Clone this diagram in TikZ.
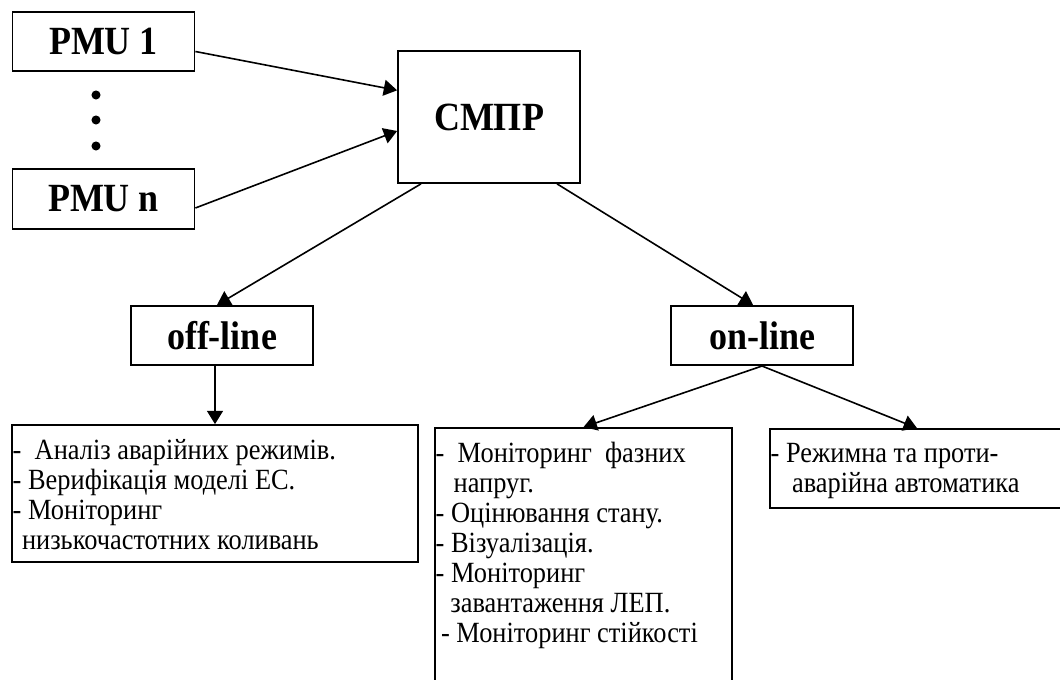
\documentclass[tikz,border=0pt]{standalone}
\usepackage{fontspec}
\setmainfont{Liberation Serif}[FakeStretch=0.9]
\usepackage{tikz}
\usetikzlibrary{arrows.meta,positioning}

\begin{document}
\begin{tikzpicture}[x=0.75pt,y=-0.75pt,
    headbox/.style={draw, line width=1.3pt, minimum width=136.5pt, minimum height=44.5pt, inner sep=0pt, font=\fontsize{30}{32}\selectfont\bfseries},
    listbox/.style={draw, line width=1.3pt, inner sep=0pt},
    listtxt/.style={anchor=north west, align=left, inner sep=0pt, font=\fontsize{22}{22.5}\selectfont},
    arr/.style={-{Triangle[length=10pt,width=12pt]}, line width=1.2pt}]
    \useasboundingbox (0,0) rectangle (1060,680);
    \clip (0,0) rectangle (1060,680);

    % sources
    \node[headbox] (pmu1) at (103.5,41.5) {PMU 1};
    \node[headbox] (pmun) at (103.5,199) {PMU n};
    \foreach \y in {95,120,146}{
        \fill (96,\y) circle (3.4pt);
    }

    % centre and modes
    \node[headbox, minimum height=99pt] (smpr) at (489,117) {СМПР};
    \node[headbox] (offl) at (222,335.5) {off-line};
    \node[headbox] (onl) at (762,335.5) {on-line};

    % task lists
    \node[listbox, minimum width=304.5pt, minimum height=102.75pt] (tasksoff) at (215,493.5) {};
    \node[listbox, minimum width=222.75pt, minimum height=196.5pt] (tasksmid) at (583.5,559) {};
    \node[listbox, minimum width=220.5pt, minimum height=59.25pt] (tasksright) at (917,468.5) {};

    \node[listtxt] (offtxt) at ([xshift=1pt,yshift=-11pt]tasksoff.north west)
        {-~ Аналіз аварійних режимів.\\
         - Верифікація моделі ЕС.\\
         - Моніторинг\\
         \hspace*{7pt}низькочастотних коливань};
    \node[listtxt] (midtxt) at ([xshift=1pt,yshift=-11pt]tasksmid.north west)
        {-~ Моніторинг~ фазних\\
         \hspace*{13.5pt}напруг.\\
         - Оцінювання стану.\\
         - Візуалізація.\\
         - Моніторинг\\
         \hspace*{11pt}завантаження ЛЕП.\\
         \hspace*{4pt}- Моніторинг стійкості};
    \node[listtxt] (righttxt) at ([xshift=1pt,yshift=-11pt]tasksright.north west)
        {- Режимна та проти-\\
         \hspace*{16pt}аварійна автоматика};

    % connectors
    \draw[arr] ([yshift=-7.5pt]pmu1.east) -- ([yshift=20pt]smpr.west);
    \draw[arr] ([yshift=-6.75pt]pmun.east) -- ([yshift=-10.5pt]smpr.west);
    \draw[arr] ([xshift=-51pt]smpr.south) -- ([xshift=-3.75pt]offl.north);
    \draw[arr] ([xshift=51pt]smpr.south) -- ([xshift=-6.75pt]onl.north);
    \draw[arr] (tasksoff.north |- offl.south) -- (tasksoff.north);
    \draw[arr] (onl.south) -- (tasksmid.north);
    \draw[arr] (onl.south) -- (tasksright.north);
\end{tikzpicture}
\end{document}
